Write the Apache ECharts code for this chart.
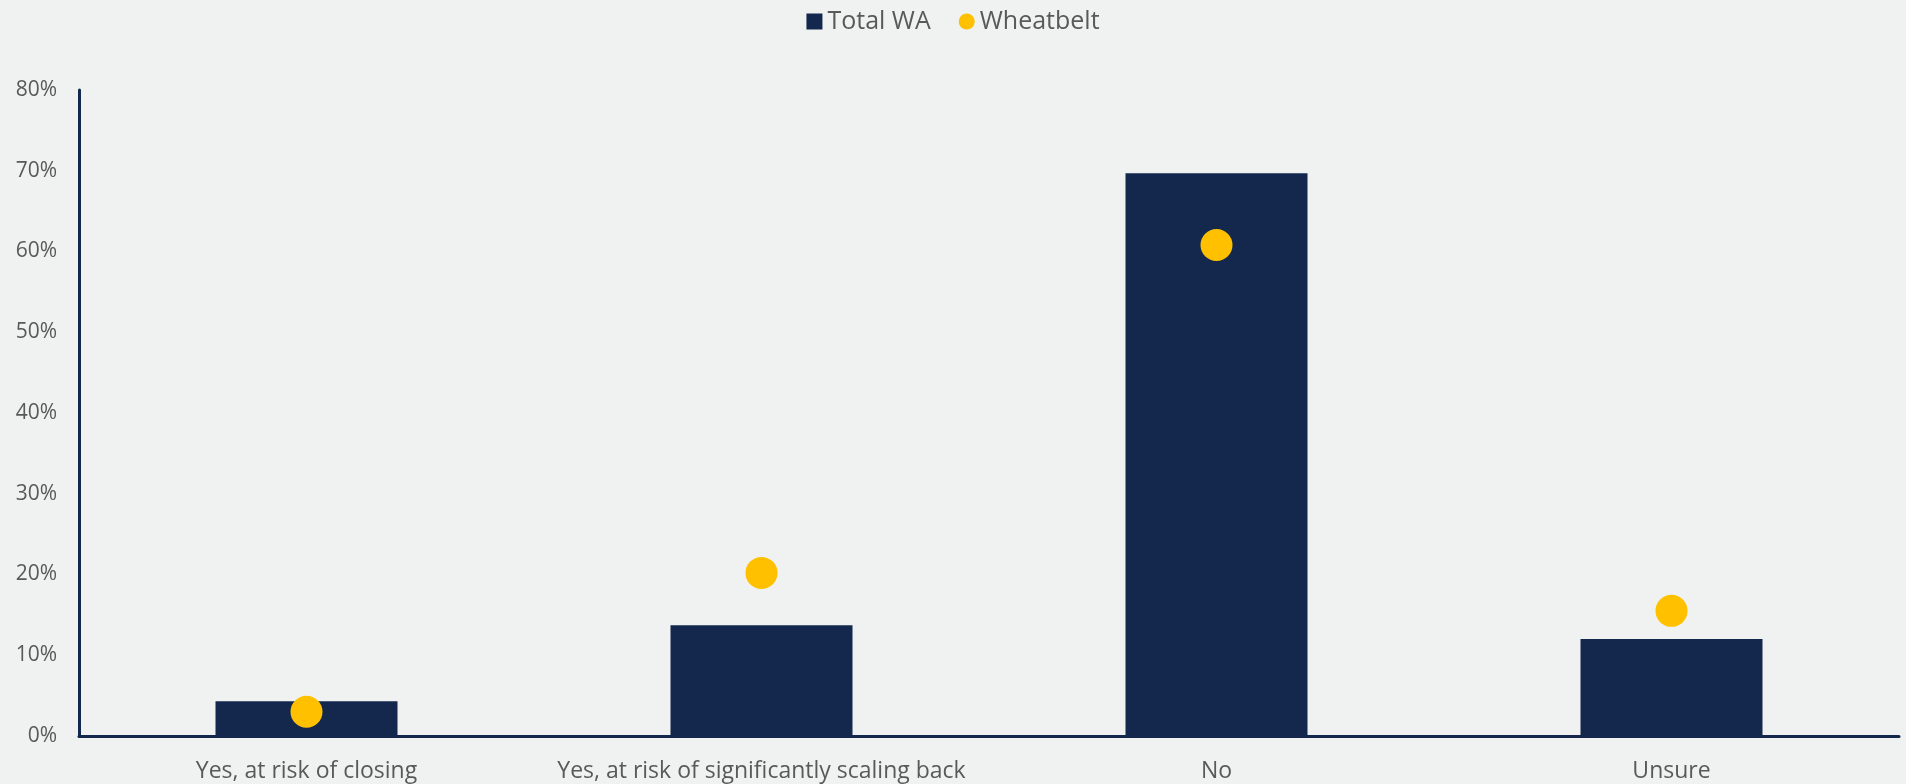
<!DOCTYPE html>
<html>
<head>
<meta charset="utf-8">
<title>Total WA vs Wheatbelt</title>
<script src="https://cdn.jsdelivr.net/npm/echarts@6/dist/echarts.min.js"></script>
<style>
  html, body { margin: 0; padding: 0; background: #f0f2f1; }
  #chart { width: 1906px; height: 784px; }
</style>
</head>
<body>
<div id="chart"></div>
<script>
const categories = [
  'Yes, at risk of closing',
  'Yes, at risk of significantly scaling back',
  'No',
  'Unsure',
]
const totalWA = [4.3, 13.7, 69.7, 12.0]
const wheatbelt = [3.0, 20.2, 60.8, 15.5]
const yTicks = [0, 10, 20, 30, 40, 50, 60, 70, 80]

const navy = '#13284c'
const gold = '#ffc000'
const textGrey = '#595959'

const chart = echarts.init(document.getElementById('chart'))

const option = {
  backgroundColor: '#f0f2f1',
  textStyle: { fontFamily: '"Open Sans", sans-serif' },
  legend: {
    top: 4,
    left: 'center',
    itemWidth: 16,
    itemHeight: 16,
    itemGap: 28,
    textStyle: { color: textGrey, fontSize: 25 },
    data: [
      { name: 'Total WA', icon: 'rect' },
      { name: 'Wheatbelt', icon: 'circle' },
    ],
  },
  grid: { left: 79, right: 7, top: 90, bottom: 48, containLabel: false },
  xAxis: {
    type: 'category',
    data: categories,
    axisLine: { show: true, lineStyle: { color: navy, width: 3 } },
    axisTick: { show: false },
    axisLabel: { color: textGrey, fontSize: 23, margin: 24, interval: 0 },
  },
  yAxis: {
    type: 'value',
    min: yTicks[0],
    max: yTicks[yTicks.length - 1],
    interval: 10,
    axisLine: { show: true, lineStyle: { color: navy, width: 3 } },
    axisTick: { show: false },
    splitLine: { show: false },
    axisLabel: { color: textGrey, fontSize: 21, margin: 22, formatter: '{value}%' },
  },
  series: [
    {
      name: 'Total WA',
      type: 'bar',
      data: totalWA,
      barWidth: '40%',
      itemStyle: { color: navy },
    },
    {
      name: 'Wheatbelt',
      type: 'scatter',
      data: wheatbelt,
      symbol: 'circle',
      symbolSize: 32,
      itemStyle: { color: gold, opacity: 1 },
      z: 3,
    },
  ],
}

chart.setOption(option)
</script>
</body>
</html>
